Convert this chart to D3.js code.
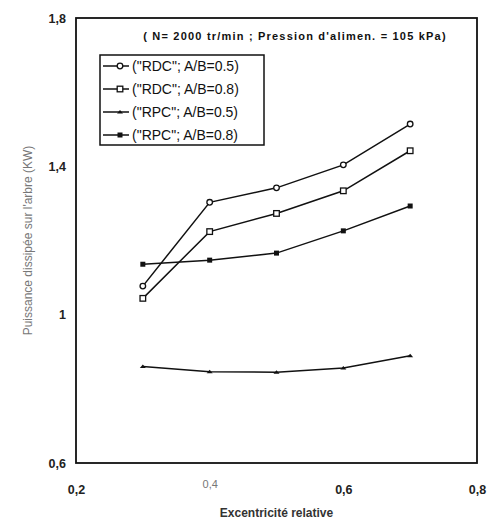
<!DOCTYPE html>
<html>
<head>
<meta charset="utf-8">
<script src="https://cdn.jsdelivr.net/npm/d3@7"></script>
<style>
  body { margin: 0; background: #fff; }
  text { font-family: "Liberation Sans", Arial, sans-serif; }
</style>
</head>
<body>
<div id="chart"></div>
<script>
// data
var excentricite = [0.3, 0.4, 0.5, 0.6, 0.7];
var rdc05 = [1.077, 1.303, 1.342, 1.404, 1.514];
var rdc08 = [1.044, 1.224, 1.273, 1.334, 1.442];
var rpc05 = [0.860, 0.846, 0.845, 0.856, 0.889];
var rpc08 = [1.136, 1.147, 1.166, 1.226, 1.293];
var seriesNames = ['("RDC"; A/B=0.5)', '("RDC"; A/B=0.8)', '("RPC"; A/B=0.5)', '("RPC"; A/B=0.8)'];
var xTicks = [0.2, 0.4, 0.6, 0.8];
var yTicks = [0.6, 1, 1.4, 1.8];

var svgWidth = 504;
var svgHeight = 521;
var margin = { top: 18, right: 27, bottom: 58, left: 76 };
var width = svgWidth - margin.left - margin.right;
var height = svgHeight - margin.top - margin.bottom;

var svg = d3.select("#chart")
  .append("svg")
  .attr("width", svgWidth)
  .attr("height", svgHeight);

var chartGroup = svg.append("g")
  .attr("transform", `translate(${margin.left}, ${margin.top})`);

var xScale = d3.scaleLinear().domain([0.2, 0.8]).range([0, width]);
var yScale = d3.scaleLinear().domain([0.6, 1.8]).range([height, 0]);

var fmt = d => String(d).replace(".", ",");

// axes (labels only, the frame is drawn as a rect)
var bottomAxis = d3.axisBottom(xScale).tickValues(xTicks).tickSize(0).tickPadding(22).tickFormat(fmt);
var leftAxis = d3.axisLeft(yScale).tickValues(yTicks).tickSize(0).tickPadding(10).tickFormat(fmt);

var xAxis = chartGroup.append("g")
  .attr("transform", `translate(0, ${height})`)
  .call(bottomAxis);
var yAxis = chartGroup.append("g").call(leftAxis);

[xAxis, yAxis].forEach(function(ax) {
  ax.select(".domain").remove();
  ax.selectAll("text")
    .attr("font-size", "12.5px")
    .attr("font-weight", "bold")
    .attr("fill", "#222");
});
xAxis.selectAll(".tick").filter(d => d === 0.4).select("text")
  .attr("fill", "#777").attr("font-weight", "normal").attr("font-size", "11px")
  .attr("dy", "0.3em");

// frame
chartGroup.append("rect")
  .attr("x", 0).attr("y", 0)
  .attr("width", width).attr("height", height)
  .attr("fill", "none")
  .attr("stroke", "#111")
  .attr("stroke-width", 1.8);

// axis titles
chartGroup.append("text")
  .attr("transform", "rotate(-90)")
  .attr("x", 0 - (height / 2) + 0)
  .attr("y", -44)
  .attr("text-anchor", "middle")
  .attr("font-size", "12px")
  .attr("fill", "#777")
  .text("Puissance dissipée sur l'arbre (KW)");

chartGroup.append("text")
  .attr("x", width / 2)
  .attr("y", height + 54)
  .attr("text-anchor", "middle")
  .attr("font-size", "12px")
  .attr("font-weight", "bold")
  .attr("fill", "#333")
  .text("Excentricité relative");

// conditions
chartGroup.append("text")
  .attr("x", 219)
  .attr("y", 22)
  .attr("text-anchor", "middle")
  .attr("font-size", "11px")
  .attr("font-weight", "bold")
  .attr("letter-spacing", "1.2px")
  .attr("fill", "#111")
  .text("( N= 2000 tr/min ; Pression d'alimen. = 105 kPa)");

// series
var allSeries = [rdc05, rdc08, rpc05, rpc08];
var markers = ["circle", "square", "triangle", "filledSquare"];

var line = d3.line()
  .x((d, i) => xScale(excentricite[i]))
  .y(d => yScale(d));

function drawMarker(g, type, x, y) {
  if (type === "circle") {
    g.append("circle").attr("cx", x).attr("cy", y).attr("r", 2.8)
      .attr("fill", "#fff").attr("stroke", "#111").attr("stroke-width", 1.3);
  } else if (type === "square") {
    g.append("rect").attr("x", x - 2.8).attr("y", y - 2.8).attr("width", 5.6).attr("height", 5.6)
      .attr("fill", "#fff").attr("stroke", "#111").attr("stroke-width", 1.3);
  } else if (type === "triangle") {
    g.append("path").attr("d", `M${x - 3},${y + 1.5}L${x + 3},${y + 1.5}L${x},${y - 2}Z`)
      .attr("fill", "#111");
  } else {
    g.append("rect").attr("x", x - 2.5).attr("y", y - 2.5).attr("width", 5).attr("height", 5)
      .attr("fill", "#111");
  }
}

allSeries.forEach(function(values, s) {
  var g = chartGroup.append("g");
  g.append("path")
    .datum(values)
    .attr("d", line)
    .attr("fill", "none")
    .attr("stroke", "#111")
    .attr("stroke-width", 1.5);
  values.forEach(function(v, i) {
    drawMarker(g, markers[s], xScale(excentricite[i]), yScale(v));
  });
});

// legend
var legend = chartGroup.append("g").attr("transform", "translate(24, 37)");
legend.append("rect")
  .attr("x", 0).attr("y", 0)
  .attr("width", 164).attr("height", 90)
  .attr("fill", "#fff")
  .attr("stroke", "#111")
  .attr("stroke-width", 1.5);

seriesNames.forEach(function(name, i) {
  var ly = 11 + i * 23;
  legend.append("line")
    .attr("x1", 3).attr("x2", 29)
    .attr("y1", ly).attr("y2", ly)
    .attr("stroke", "#111").attr("stroke-width", 1.5);
  drawMarker(legend, markers[i], 20, ly);
  legend.append("text")
    .attr("x", 32)
    .attr("y", ly + 5)
    .attr("font-size", "14px")
    .attr("fill", "#111")
    .text(name);
});
</script>
</body>
</html>
